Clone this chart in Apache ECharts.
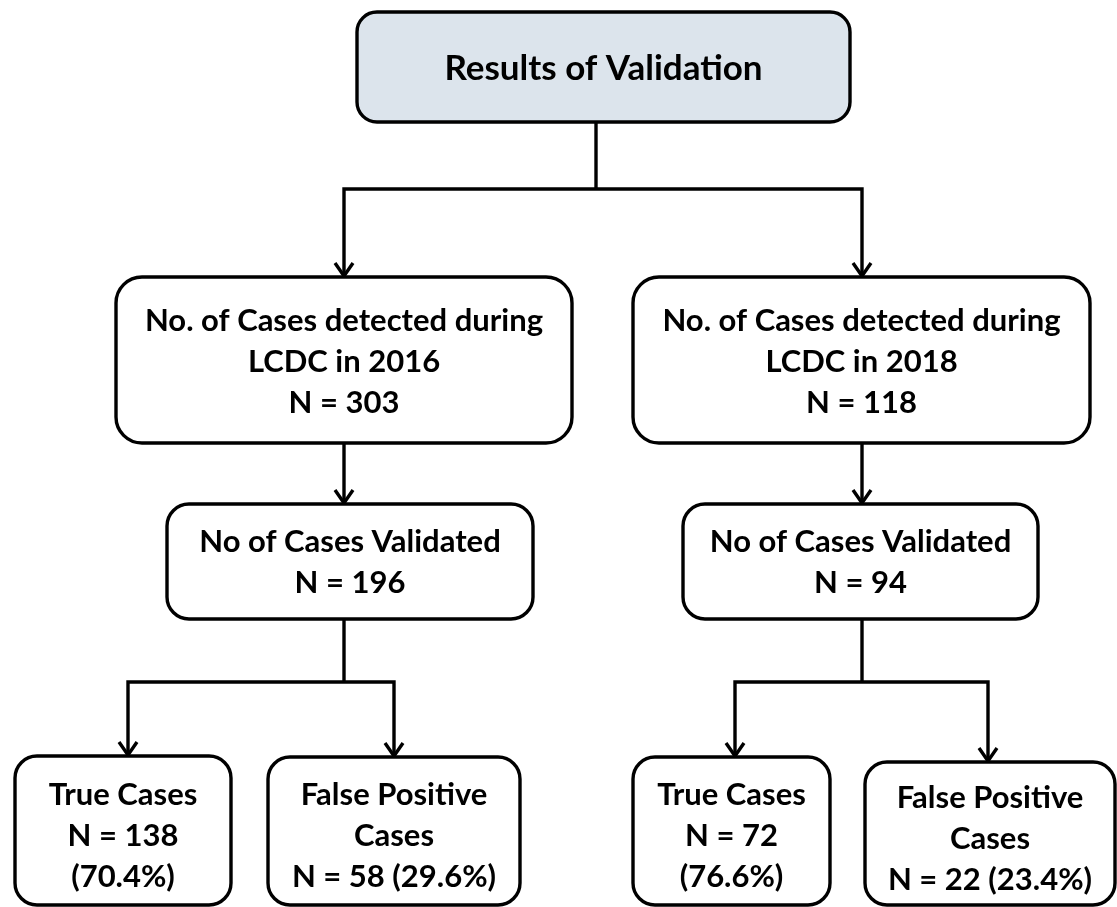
<!DOCTYPE html>
<html>
<head>
<meta charset="utf-8">
<script src="https://cdn.jsdelivr.net/npm/echarts@6/dist/echarts.min.js"></script>
<style>
  html, body { margin: 0; padding: 0; background: #ffffff; }
  #chart { width: 1117px; height: 907px; }
</style>
</head>
<body>
<div id="chart"></div>
<script>
// ---- data ----
const titleText = 'Results of Validation';
const years = ['2016', '2018'];
const detectedN = [303, 118];
const validatedN = [196, 94];
const trueN = [138, 72];
const truePct = ['70.4%', '76.6%'];
const falseN = [58, 22];
const falsePct = ['29.6%', '23.4%'];

// ---- node texts built from the data ----
const nodeTexts = [
  titleText,
  'No. of Cases detected during\nLCDC in ' + years[0] + '\nN = ' + detectedN[0],
  'No. of Cases detected during\nLCDC in ' + years[1] + '\nN = ' + detectedN[1],
  'No of Cases Validated\nN = ' + validatedN[0],
  'No of Cases Validated\nN = ' + validatedN[1],
  'True Cases\nN = ' + trueN[0] + '\n(' + truePct[0] + ')',
  'False Positive\nCases\nN = ' + falseN[0] + ' (' + falsePct[0] + ')',
  'True Cases\nN = ' + trueN[1] + '\n(' + truePct[1] + ')',
  'False Positive\nCases\nN = ' + falseN[1] + ' (' + falsePct[1] + ')'
];

// ---- layout (axis units; x: 0..1117, y: 0..907 downwards) ----
// [x0, y0, x1, y1, cornerRadius, textCenterY, inX (arrow), outX (stem)]
const boxLayout = [
  [357, 12, 850, 122, 20, 69, 596, 596],
  [116, 277, 572, 443, 26, 362, 344, 344],
  [633, 277, 1090, 443, 26, 362, 862, 862],
  [167, 504, 533, 619, 22, 562, 344, 344],
  [683, 504, 1038, 619, 22, 562, 862, 862],
  [15, 756, 231, 905, 22, 836, 128, 128],
  [268, 757, 520, 905, 22, 836, 394, 394],
  [633, 757, 830, 905, 22, 836, 735, 735],
  [865, 762, 1115, 905, 22, 839, 988, 988]
];
const boxFill = ['#dce4ec', '#fff', '#fff', '#fff', '#fff', '#fff', '#fff', '#fff', '#fff'];
const boxFontSize = [35, 31, 31, 31, 31, 31, 31, 31, 31];
// [parent, children, busY]
const edges = [
  [0, [1, 2], 189],
  [1, [3], null],
  [2, [4], null],
  [3, [5, 6], 682],
  [4, [7, 8], 682]
];

const chart = echarts.init(document.getElementById('chart'), null, { renderer: 'canvas' });

const LW = 3.4;

function renderBox(params, api) {
  const i = params.dataIndex;
  const b = boxLayout[i];
  const p0 = api.coord([b[0], b[1]]);
  const p1 = api.coord([b[2], b[3]]);
  const tc = api.coord([(b[0] + b[2]) / 2, b[5]]);
  return {
    type: 'group',
    children: [
      {
        type: 'rect',
        shape: { x: p0[0], y: p0[1], width: p1[0] - p0[0], height: p1[1] - p0[1], r: b[4] },
        style: { fill: boxFill[i], stroke: '#000', lineWidth: LW }
      },
      {
        type: 'text',
        style: {
          x: tc[0], y: tc[1], text: nodeTexts[i],
          font: 'bold ' + boxFontSize[i] + 'px Lato, "Open Sans", sans-serif',
          fill: '#000', align: 'center', verticalAlign: 'middle', lineHeight: 41
        }
      }
    ]
  };
}

function arrowHead(api, x, y) {
  const t = api.coord([x, y]);
  return {
    type: 'polyline',
    shape: { points: [[t[0] - 9, t[1] - 14], [t[0], t[1] - 1], [t[0] + 9, t[1] - 14]] },
    style: { stroke: '#000', lineWidth: LW, fill: null, lineJoin: 'miter' }
  };
}

function renderEdge(params, api) {
  const e = edges[params.dataIndex];
  const parent = boxLayout[e[0]];
  const children = [];
  const sx = parent[7], sy = parent[3];
  const lineStyle = { stroke: '#000', lineWidth: LW, fill: null, lineJoin: 'miter' };
  if (e[1].length === 1) {
    const c = boxLayout[e[1][0]];
    const a = api.coord([sx, sy]), b = api.coord([c[6], c[1]]);
    children.push({ type: 'line', shape: { x1: a[0], y1: a[1], x2: b[0], y2: b[1] }, style: lineStyle });
    children.push(arrowHead(api, c[6], c[1]));
  } else {
    const busY = e[2];
    const a = api.coord([sx, sy]), b = api.coord([sx, busY]);
    children.push({ type: 'line', shape: { x1: a[0], y1: a[1], x2: b[0], y2: b[1] }, style: lineStyle });
    const cL = boxLayout[e[1][0]], cR = boxLayout[e[1][e[1].length - 1]];
    const pts = [
      api.coord([cL[6], cL[1]]),
      api.coord([cL[6], busY]),
      api.coord([cR[6], busY]),
      api.coord([cR[6], cR[1]])
    ];
    children.push({ type: 'polyline', shape: { points: pts }, style: lineStyle });
    e[1].forEach(k => children.push(arrowHead(api, boxLayout[k][6], boxLayout[k][1])));
  }
  return { type: 'group', children: children };
}

chart.setOption({
  backgroundColor: '#ffffff',
  animation: false,
  grid: { left: 0, right: 0, top: 0, bottom: 0 },
  xAxis: { type: 'value', min: 0, max: 1117, show: false },
  yAxis: { type: 'value', min: 0, max: 907, inverse: true, show: false },
  series: [
    {
      type: 'custom',
      name: 'connectors',
      renderItem: renderEdge,
      data: edges.map((e, i) => [i]),
      encode: { x: 0, y: 0 },
      clip: false,
      z: 1
    },
    {
      type: 'custom',
      name: 'boxes',
      renderItem: renderBox,
      data: nodeTexts.map((t, i) => [i]),
      encode: { x: 0, y: 0 },
      clip: false,
      z: 2
    }
  ]
});
</script>
</body>
</html>
